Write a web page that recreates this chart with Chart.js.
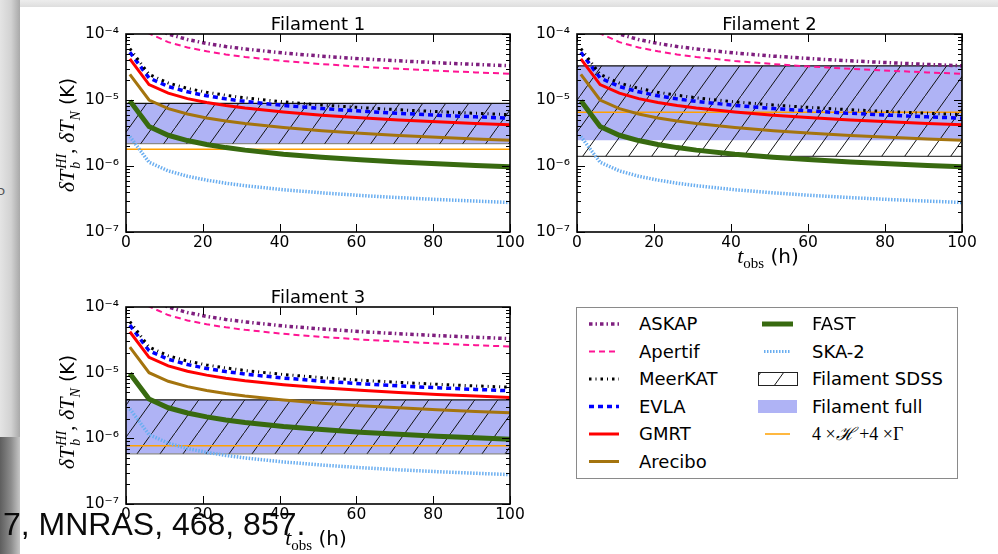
<!DOCTYPE html>
<html>
<head>
<meta charset="utf-8">
<script src="https://cdn.jsdelivr.net/npm/chart.js@4.4.1/dist/chart.umd.min.js"></script>
<style>
  html, body { margin: 0; padding: 0; background: #fff; }
  body { width: 998px; height: 554px; position: relative; overflow: hidden; font-family: 'DejaVu Sans', sans-serif; }
  .abs { position: absolute; }
  canvas { position: absolute; }
  .ylab { position: absolute; white-space: nowrap; transform: translate(-50%, -50%) rotate(-90deg); font-size: 19px; color: #000; }
  .xlab { position: absolute; white-space: nowrap; transform: translate(-50%, -50%); font-size: 20px; color: #000; }
  .m { font-family: 'Liberation Serif', 'DejaVu Serif', serif; font-style: italic; font-size: 22px; }
  .rm { font-family: 'Liberation Serif', 'DejaVu Serif', serif; font-style: normal; }
  .ss { display: inline-block; vertical-align: middle; line-height: 0.95; font-size: 14px; margin-left: 1px; }
  .ss span { display: block; }
  #legend { position: absolute; left: 576px; top: 307px; width: 380px; height: 170px; border: 1px solid #8a8a8a; background: #fff; }
  #legend .t { position: absolute; font-size: 18px; line-height: 22px; white-space: nowrap; color: #000; }
  #cite { position: absolute; left: 3px; top: 508px; font-family: 'Liberation Sans', Arial, sans-serif; font-size: 32px; line-height: 32px; color: #0a0a0a; white-space: nowrap; }
</style>
</head>
<body>
<!-- slide background pieces around the figure -->
<div class="abs" style="left:0;top:0;width:998px;height:7px;background:linear-gradient(#ededed,#dedede)"></div>
<div class="abs" style="left:0;top:0;width:20px;height:437px;background:linear-gradient(90deg,#e4e4e4,#d2d2d2 55%,#a9a9a9)"></div>
<div class="abs" style="left:0;top:437px;width:20px;height:117px;background:linear-gradient(90deg,#5e5e5e,#8c8c8c 55%,#c6c6c6)"></div>
<div class="abs" style="left:-2px;top:183px;font-size:13px;color:#555">ɔ</div>

<canvas id="p1" width="470" height="256" style="left:60px;top:0px"></canvas>
<canvas id="p2" width="471" height="256" style="left:511px;top:0px"></canvas>
<canvas id="p3" width="470" height="255" style="left:60px;top:273px"></canvas>

<div class="ylab" style="left:69px;top:135px"><span class="m">δT</span><span class="ss"><span class="m" style="font-size:14px">HI</span><span class="m" style="font-size:14px">b</span></span><span class="m">, δT<sub style="font-size:14px">N</sub></span> (K)</div>
<div class="ylab" style="left:69px;top:412px"><span class="m">δT</span><span class="ss"><span class="m" style="font-size:14px">HI</span><span class="m" style="font-size:14px">b</span></span><span class="m">, δT<sub style="font-size:14px">N</sub></span> (K)</div>
<div class="xlab" style="left:768px;top:257px"><span class="m">t</span><sub class="rm" style="font-size:15px">obs</sub> (h)</div>
<div class="xlab" style="left:316px;top:539px"><span class="m">t</span><sub class="rm" style="font-size:15px">obs</sub> (h)</div>

<div id="legend">
  <svg width="380" height="170" style="position:absolute;left:0;top:0">
    <defs>
      <pattern id="hp" patternUnits="userSpaceOnUse" width="23" height="32">
        <path d="M0 32 L23 0" stroke="#111" stroke-width="1"/>
      </pattern>
    </defs>
    <line x1="12" y1="16" x2="42" y2="16" stroke="#7f1f7f" stroke-width="3.5" stroke-dasharray="3.5 3 1.5 3"/>
    <line x1="12" y1="43.5" x2="42" y2="43.5" stroke="#ff1493" stroke-width="2" stroke-dasharray="6 4"/>
    <line x1="12" y1="71" x2="42" y2="71" stroke="#000" stroke-width="3" stroke-dasharray="2.5 4 1 4"/>
    <line x1="12" y1="98.5" x2="42" y2="98.5" stroke="#0000ff" stroke-width="3.5" stroke-dasharray="5 4"/>
    <line x1="12" y1="126" x2="42" y2="126" stroke="#ff0000" stroke-width="3"/>
    <line x1="12" y1="153.5" x2="42" y2="153.5" stroke="#a4740e" stroke-width="3"/>
    <line x1="185" y1="16" x2="216" y2="16" stroke="#386a10" stroke-width="5"/>
    <line x1="187" y1="43.5" x2="214" y2="43.5" stroke="#6aaef0" stroke-width="3" stroke-dasharray="1.5 1.5"/>
    <rect x="181.5" y="64.5" width="39" height="13" fill="url(#hp)" stroke="#222" stroke-width="1"/>
    <rect x="181" y="92" width="39" height="13" fill="#afb3f5"/>
    <line x1="188" y1="126" x2="213" y2="126" stroke="#ffa000" stroke-width="1.5"/>
  </svg>
  <span class="t" style="left:62px;top:5px">ASKAP</span>
  <span class="t" style="left:62px;top:32.5px">Apertif</span>
  <span class="t" style="left:62px;top:60px">MeerKAT</span>
  <span class="t" style="left:62px;top:87.5px">EVLA</span>
  <span class="t" style="left:62px;top:115px">GMRT</span>
  <span class="t" style="left:62px;top:142.5px">Arecibo</span>
  <span class="t" style="left:235px;top:5px">FAST</span>
  <span class="t" style="left:235px;top:32.5px">SKA-2</span>
  <span class="t" style="left:235px;top:60px">Filament SDSS</span>
  <span class="t" style="left:235px;top:87.5px">Filament full</span>
  <span class="t rm" style="left:235px;top:115px;font-size:18px">4 ×<i>ℋ</i> +4 ×Γ</span>
</div>

<div id="cite">7, MNRAS, 468, 857.</div>

<script>
// observing time (h)
const tObs = [1, 6, 11, 16, 21, 26, 31, 41, 51, 61, 71, 81, 91, 100];

// noise curves (K) (identical in the three panels)
const askap   = [3.3e-4, 1.35e-4, 9.95e-5, 8.25e-5, 7.2e-5, 6.47e-5, 5.93e-5, 5.15e-5, 4.62e-5, 4.22e-5, 3.92e-5, 3.67e-5, 3.46e-5, 3.3e-5];
const apertif = [2.5e-4, 1.02e-4, 7.54e-5, 6.25e-5, 5.46e-5, 4.9e-5, 4.49e-5, 3.9e-5, 3.5e-5, 3.2e-5, 2.97e-5, 2.78e-5, 2.62e-5, 2.5e-5];
const meerkat = [6.0e-5, 2.45e-5, 1.81e-5, 1.5e-5, 1.31e-5, 1.18e-5, 1.08e-5, 9.37e-6, 8.4e-6, 7.68e-6, 7.12e-6, 6.67e-6, 6.29e-6, 6.0e-6];
const evla    = [5.3e-5, 2.16e-5, 1.6e-5, 1.33e-5, 1.16e-5, 1.04e-5, 9.52e-6, 8.28e-6, 7.42e-6, 6.79e-6, 6.29e-6, 5.89e-6, 5.56e-6, 5.3e-6];
const gmrt    = [4.2e-5, 1.71e-5, 1.27e-5, 1.05e-5, 9.17e-6, 8.24e-6, 7.54e-6, 6.56e-6, 5.88e-6, 5.38e-6, 4.98e-6, 4.67e-6, 4.4e-6, 4.2e-6];
const arecibo = [2.45e-5, 1.0e-5, 7.39e-6, 6.13e-6, 5.35e-6, 4.8e-6, 4.4e-6, 3.83e-6, 3.43e-6, 3.14e-6, 2.91e-6, 2.72e-6, 2.57e-6, 2.45e-6];
const fast    = [9.7e-6, 3.96e-6, 2.92e-6, 2.43e-6, 2.12e-6, 1.9e-6, 1.74e-6, 1.51e-6, 1.36e-6, 1.24e-6, 1.15e-6, 1.08e-6, 1.02e-6, 9.7e-7];
const ska2    = [2.8e-6, 1.14e-6, 8.44e-7, 7.0e-7, 6.11e-7, 5.49e-7, 5.03e-7, 4.37e-7, 3.92e-7, 3.58e-7, 3.32e-7, 3.11e-7, 2.94e-7, 2.8e-7];

// filament signal bands, one entry per panel (Filament 1, 2, 3)
const panelTitles = ['Filament 1', 'Filament 2', 'Filament 3'];
const sdssTop    = [8.9e-6, 3.3e-5, 3.85e-6];
const sdssBottom = [2.18e-6, 1.4e-6, 5.8e-7];
const fullTop    = [8.9e-6, 3.3e-5, 3.85e-6];
const fullBottom = [2.18e-6, 2.45e-6, 5.8e-7];
const heating    = [1.8e-6, 6.5e-6, 7.7e-7];   // 4 x H + 4 x Gamma

const xTicks = [0, 20, 40, 60, 80, 100];
const yTicks = [1e-7, 1e-6, 1e-5, 1e-4];
const yTickLabels = ['10⁻⁷', '10⁻⁶', '10⁻⁵', '10⁻⁴'];

const curves = [
  {label: 'ASKAP',   data: askap,   color: '#7f1f7f', width: 3.5, dash: [3.5, 3, 1.5, 3]},
  {label: 'Apertif', data: apertif, color: '#ff1493', width: 2,   dash: [6, 4]},
  {label: 'MeerKAT', data: meerkat, color: '#000000', width: 3,   dash: [2.5, 4, 1, 4]},
  {label: 'EVLA',    data: evla,    color: '#0000ff', width: 3.5, dash: [5, 4]},
  {label: 'GMRT',    data: gmrt,    color: '#ff0000', width: 3,   dash: []},
  {label: 'Arecibo', data: arecibo, color: '#a4740e', width: 3,   dash: []},
  {label: 'FAST',    data: fast,    color: '#386a10', width: 5,   dash: []},
  {label: 'SKA-2',   data: ska2,    color: '#6aaef0', width: 3.5, dash: [1.5, 1.5]}
];
const sdssEdge = ['#8a8a8a', '#444444', '#8a8a8a'];

Chart.defaults.font.family = "'DejaVu Sans', sans-serif";
Chart.defaults.color = '#000';

function hatchPattern() {
  const c = document.createElement('canvas');
  c.width = 23;
  c.height = 32;
  const g = c.getContext('2d');
  g.strokeStyle = '#111';
  g.lineWidth = 1;
  g.beginPath();
  g.moveTo(0, 32);
  g.lineTo(23, 0);
  g.stroke();
  return g.createPattern(c, 'repeat');
}

// matplotlib style frame with inward ticks on all four sides
const frameTicks = {
  id: 'frameTicks',
  afterDraw(chart) {
    const {ctx, chartArea: a, scales: {x, y}} = chart;
    ctx.save();
    ctx.strokeStyle = '#000';
    ctx.lineWidth = 1;
    ctx.beginPath();
    for (let e = -7; e <= -4; e++) {
      for (let m = 1; m <= 9; m++) {
        if (e === -4 && m > 1) break;
        const py = Math.round(y.getPixelForValue(m * Math.pow(10, e))) + 0.5;
        const len = m === 1 ? 8 : 4;
        ctx.moveTo(a.left, py); ctx.lineTo(a.left + len, py);
        ctx.moveTo(a.right, py); ctx.lineTo(a.right - len, py);
      }
    }
    xTicks.forEach(v => {
      const px = Math.round(x.getPixelForValue(v)) + 0.5;
      ctx.moveTo(px, a.bottom); ctx.lineTo(px, a.bottom - 8);
      ctx.moveTo(px, a.top); ctx.lineTo(px, a.top + 8);
    });
    ctx.stroke();
    ctx.lineWidth = 1.6;
    ctx.strokeRect(a.left, a.top, a.right - a.left, a.bottom - a.top);
    ctx.restore();
  }
};

function flat(v) {
  return [{x: 0, y: v}, {x: 100, y: v}];
}

function makePanel(id, p) {
  const hatch = hatchPattern();
  const datasets = curves.map(c => ({
    label: c.label,
    data: tObs.map((t, i) => ({x: t, y: c.data[i]})),
    borderColor: c.color,
    borderWidth: c.width,
    borderDash: c.dash,
    borderCapStyle: 'butt',
    pointRadius: 0,
    fill: false
  }));

  datasets.push({label: '4xH+4xGamma', data: flat(heating[p]), borderColor: '#ffa000', borderWidth: 1.5, pointRadius: 0, fill: false});
  datasets.push({label: 'Filament SDSS', data: flat(sdssTop[p]), borderColor: '#111', borderWidth: 1.3, pointRadius: 0, fill: '+1', backgroundColor: hatch});
  datasets.push({label: 'sdss low', data: flat(sdssBottom[p]), borderColor: sdssEdge[p], borderWidth: 1.2, pointRadius: 0, fill: false});
  datasets.push({label: 'Filament full', data: flat(fullTop[p]), borderColor: 'rgba(0,0,0,0)', borderWidth: 0, pointRadius: 0, fill: '+1', backgroundColor: '#afb3f5'});
  datasets.push({label: 'full low', data: flat(fullBottom[p]), borderColor: 'rgba(0,0,0,0)', borderWidth: 0, pointRadius: 0, fill: false});

  return new Chart(document.getElementById(id), {
    type: 'line',
    data: {datasets},
    plugins: [frameTicks],
    options: {
      responsive: false,
      animation: false,
      events: [],
      layout: {padding: {left: 0, right: 20, top: 0, bottom: 2}},
      plugins: {
        legend: {display: false},
        tooltip: {enabled: false},
        title: {
          display: true,
          text: panelTitles[p],
          fullSize: false,
          color: '#000',
          font: {size: 18, weight: 'normal', lineHeight: 1},
          padding: {top: 16, bottom: 0}
        }
      },
      scales: {
        x: {
          type: 'linear',
          min: 0,
          max: 100,
          grid: {display: false, drawTicks: false},
          border: {display: false},
          ticks: {font: {size: 15.5}, padding: 2, maxRotation: 0},
          afterBuildTicks: s => { s.ticks = xTicks.map(v => ({value: v})); },
          afterFit: s => { s.height = 22; }
        },
        y: {
          type: 'logarithmic',
          min: 1e-7,
          max: 1e-4,
          grid: {display: false, drawTicks: false},
          border: {display: false},
          ticks: {
            font: {size: 15.5},
            padding: 7,
            callback: v => {
              const i = yTicks.findIndex(t => Math.abs(t - v) / t < 1e-6);
              return i >= 0 ? yTickLabels[i] : '';
            }
          },
          afterBuildTicks: s => { s.ticks = yTicks.map(v => ({value: v, major: true})); },
          afterFit: s => { s.width = 66; }
        }
      }
    }
  });
}

makePanel('p1', 0);
makePanel('p2', 1);
makePanel('p3', 2);
</script>
</body>
</html>
